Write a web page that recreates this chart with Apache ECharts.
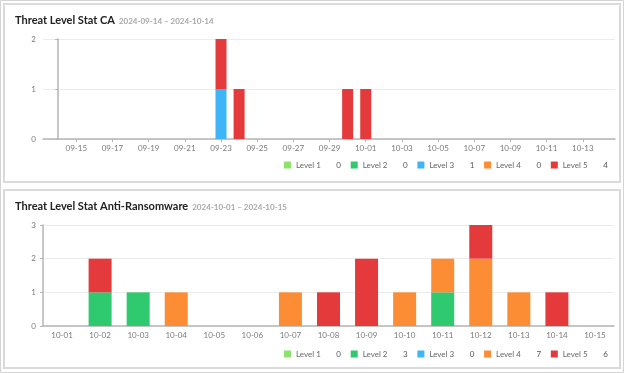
<!DOCTYPE html>
<html>
<head>
<meta charset="utf-8">
<script src="https://cdn.jsdelivr.net/npm/echarts@6/dist/echarts.min.js"></script>
<style>
html,body{margin:0;padding:0;background:#fff;}
#c{width:624px;height:373px;}
</style>
</head>
<body>
<div id="c"></div>
<script>
// ---------- data ----------
var levelNames = ['Level 1', 'Level 2', 'Level 3', 'Level 4', 'Level 5'];
var levelColors = ['#8de26b', '#2fca6f', '#3db5f8', '#fd8d35', '#e43a3c'];

// Chart 1: Threat Level Stat CA (2024-09-14 .. 2024-10-14)
var caTitle = 'Threat Level Stat CA';
var caRange = '2024-09-14 – 2024-10-14';
var caDates = ['09-14','09-15','09-16','09-17','09-18','09-19','09-20','09-21','09-22','09-23',
               '09-24','09-25','09-26','09-27','09-28','09-29','09-30','10-01','10-02','10-03',
               '10-04','10-05','10-06','10-07','10-08','10-09','10-10','10-11','10-12','10-13','10-14'];
var caTickLabels = ['09-15','09-17','09-19','09-21','09-23','09-25','09-27','09-29','10-01','10-03','10-05','10-07','10-09','10-11','10-13'];
var caLevel1 = [0,0,0,0,0,0,0,0,0,0, 0,0,0,0,0,0,0,0,0,0, 0,0,0,0,0,0,0,0,0,0,0];
var caLevel2 = [0,0,0,0,0,0,0,0,0,0, 0,0,0,0,0,0,0,0,0,0, 0,0,0,0,0,0,0,0,0,0,0];
var caLevel3 = [0,0,0,0,0,0,0,0,0,1, 0,0,0,0,0,0,0,0,0,0, 0,0,0,0,0,0,0,0,0,0,0];
var caLevel4 = [0,0,0,0,0,0,0,0,0,0, 0,0,0,0,0,0,0,0,0,0, 0,0,0,0,0,0,0,0,0,0,0];
var caLevel5 = [0,0,0,0,0,0,0,0,0,1, 1,0,0,0,0,0,1,1,0,0, 0,0,0,0,0,0,0,0,0,0,0];
var caYTicks = [0, 1, 2];

// Chart 2: Threat Level Stat Anti-Ransomware (2024-10-01 .. 2024-10-15)
var arTitle = 'Threat Level Stat Anti-Ransomware';
var arRange = '2024-10-01 – 2024-10-15';
var arDates = ['10-01','10-02','10-03','10-04','10-05','10-06','10-07','10-08','10-09','10-10','10-11','10-12','10-13','10-14','10-15'];
var arLevel1 = [0,0,0,0,0,0,0,0,0,0,0,0,0,0,0];
var arLevel2 = [0,1,1,0,0,0,0,0,0,0,1,0,0,0,0];
var arLevel3 = [0,0,0,0,0,0,0,0,0,0,0,0,0,0,0];
var arLevel4 = [0,0,0,1,0,0,1,0,0,1,1,2,1,0,0];
var arLevel5 = [0,1,0,0,0,0,0,1,2,0,0,1,0,1,0];
var arYTicks = [0, 1, 2, 3];

// ---------- build ----------
var caTickIdx = caTickLabels.map(function(d){ return caDates.indexOf(d); });

var caLevels = [caLevel1, caLevel2, caLevel3, caLevel4, caLevel5];
var arLevels = [arLevel1, arLevel2, arLevel3, arLevel4, arLevel5];
function sum(a){ return a.reduce(function(s,v){return s+v;},0); }
var caTotals = {}, arTotals = {};
levelNames.forEach(function(n,i){ caTotals[n]=sum(caLevels[i]); arTotals[n]=sum(arLevels[i]); });

var FONT = 'Lato, "Noto Sans", sans-serif';
var axisGray = '#b5b5b5';
var labelGray = '#7a7a7a';

function legendFor(totals, top) {
  return {
    data: levelNames,
    left: 284, top: top, padding: 0,
    orient: 'horizontal',
    itemWidth: 7, itemHeight: 7, itemGap: 9.7,
    icon: 'rect',
    selectedMode: false,
    formatter: function(name){ return '{n|' + name + '}{v|' + totals[name] + '}'; },
    textStyle: {
      fontFamily: FONT, fontSize: 8, color: '#666',
      rich: {
        n: { width: 39, fontFamily: FONT, fontSize: 8, color: '#666' },
        v: { width: 6, align: 'right', fontFamily: FONT, fontSize: 8, color: '#555' }
      }
    }
  };
}

function titleFor(t, r, top) {
  return {
    left: 15, top: top, padding: 0,
    text: '{t|' + t + '}{s|' + r + '}',
    textStyle: {
      rich: {
        t: { fontFamily: FONT, fontSize: 11, fontWeight: 'bold', color: '#222', padding: [0, 4, 0, 0] },
        s: { fontFamily: FONT, fontSize: 8, color: '#a8a8a8', padding: [1, 0, 0, 0] }
      }
    }
  };
}

function yAxisFor(gi, ticks) {
  return {
    type: 'value', gridIndex: gi,
    min: ticks[0], max: ticks[ticks.length-1], interval: 1,
    axisLine: { show: true, lineStyle: { color: axisGray, width: 1.5 } },
    axisTick: { show: true, length: 3, lineStyle: { color: axisGray } },
    axisLabel: { margin: 7, fontFamily: FONT, fontSize: 8, color: labelGray },
    splitLine: { show: true, lineStyle: { color: '#ececec', width: 1 } }
  };
}

var series = [];
levelNames.forEach(function(n, i){
  series.push({
    name: n, type: 'bar', xAxisIndex: 0, yAxisIndex: 0, stack: 'ca',
    barWidth: 11, itemStyle: { color: levelColors[i] },
    // count column first so that the stacked dimension is the count (y) one
    dimensions: ['count', 'day'],
    encode: { x: 'day', y: 'count' },
    data: caLevels[i].map(function(v, k){ return [v, k]; })
  });
});
levelNames.forEach(function(n, i){
  series.push({
    name: n, type: 'bar', xAxisIndex: 1, yAxisIndex: 1, stack: 'ar',
    barWidth: 23, itemStyle: { color: levelColors[i] },
    data: arLevels[i].slice()
  });
});

var option = {
  animation: false,
  backgroundColor: '#fff',
  textStyle: { fontFamily: FONT },
  graphic: [
    { type: 'rect', shape: { x: 0.5, y: 0.5, width: 623, height: 372 }, style: { fill: 'none', stroke: '#d4d4d4', lineWidth: 1 }, silent: true },
    { type: 'rect', shape: { x: 4, y: 4, width: 616, height: 178 }, style: { fill: 'none', stroke: '#dadada', lineWidth: 2 }, silent: true },
    { type: 'rect', shape: { x: 4, y: 190, width: 616, height: 178 }, style: { fill: 'none', stroke: '#dadada', lineWidth: 2 }, silent: true }
  ],
  title: [ titleFor(caTitle, caRange, 15), titleFor(arTitle, arRange, 201) ],
  legend: [ legendFor(caTotals, 161), legendFor(arTotals, 350) ],
  grid: [
    { left: 43, top: 39, width: 572, height: 100 },
    { left: 43, top: 225, width: 571, height: 101 }
  ],
  xAxis: [
    {
      type: 'value', gridIndex: 0, min: -0.84, max: 30.78,
      axisLine: { show: true, lineStyle: { color: axisGray, width: 1.5 } },
      axisTick: { show: true, length: 3, customValues: caTickIdx, lineStyle: { color: axisGray } },
      axisLabel: { margin: 5, fontFamily: FONT, fontSize: 8, color: labelGray, customValues: caTickIdx,
        formatter: function(v){ return caDates[Math.round(v)] || ''; } },
      splitLine: { show: false }
    },
    {
      type: 'category', gridIndex: 1, data: arDates, boundaryGap: true,
      axisLine: { show: true, lineStyle: { color: axisGray, width: 1.5 } },
      axisTick: { show: false },
      axisLabel: { margin: 5, interval: 0, fontFamily: FONT, fontSize: 8, color: labelGray },
      splitLine: { show: false }
    }
  ],
  yAxis: [ yAxisFor(0, caYTicks), yAxisFor(1, arYTicks) ],
  series: series
};

var chart = echarts.init(document.getElementById('c'), null, { renderer: 'canvas' });
chart.setOption(option);
</script>
</body>
</html>
